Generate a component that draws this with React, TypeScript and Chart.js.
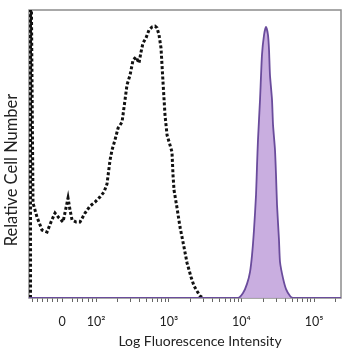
import React, { useEffect, useRef } from 'react';
import { Chart, registerables } from 'chart.js';

Chart.register(...registerables);

// x values are in display (biexponential) decade units: 2 = 10^2, 3 = 10^3 ...
const controlX = [
  1.099, 1.099, 1.133, 1.188, 1.257, 1.326, 1.381, 1.436, 1.491, 1.546, 1.587, 1.615, 1.642, 1.67,
  1.725, 1.78, 1.849, 1.917, 1.986, 2.055, 2.11, 2.151, 2.193, 2.22, 2.261, 2.303, 2.358, 2.399,
  2.426, 2.468, 2.509, 2.55, 2.591, 2.619, 2.646, 2.688, 2.729, 2.77, 2.812, 2.839, 2.867, 2.894,
  2.922, 2.949, 2.977, 3.018, 3.045, 3.059, 3.073, 3.114, 3.155, 3.21, 3.252, 3.307, 3.348, 3.389,
  3.431, 3.472,
];
const controlY = [
  0, 140, 33.0, 28.1, 23.6, 22.9, 26.4, 29.5, 27.8, 26.4, 31.3, 34.7, 30.6, 27.1,
  26.4, 26.4, 29.5, 31.9, 33.3, 35.1, 36.8, 39.6, 47.9, 51.4, 54.9, 59.0, 61.1, 68.8,
  74.0, 77.4, 82.6, 83.7, 81.6, 85.4, 88.5, 90.3, 93.1, 94.1, 94.4, 93.8, 91.3, 86.8,
  74.7, 63.5, 56.6, 53.1, 50.7, 42.7, 37.5, 31.3, 24.7, 17.7, 12.2, 7.3, 4.2, 2.4,
  0.7, 0,
];

const stainedX = [
  1.078, 3.953, 4.022, 4.077, 4.118, 4.146, 4.173, 4.201, 4.215, 4.228, 4.256, 4.283, 4.311, 4.338,
  4.366, 4.38, 4.393, 4.421, 4.435, 4.462, 4.476, 4.49, 4.517, 4.531, 4.572, 4.614, 4.669, 4.71, 5.37,
];
const stainedY = [
  0, 0, 1.7, 4.9, 9.0, 14.9, 23.6, 35.8, 46.2, 54.9, 68.8, 84.4, 91.3, 94.1,
  91.3, 86.1, 77.4, 68.8, 60.1, 51.4, 42.7, 32.3, 20.1, 12.5, 6.9, 3.1, 0.7, 0, 0,
];

const axisMin = 1.078;
const axisMax = 5.37;
const majorTickValues = [1.532, 2, 3, 4, 5];
const majorTickLabels = ['0', '10²', '10³', '10⁴', '10⁵'];
const linearMinorTicks = [1.12, 1.19, 1.26, 1.33, 1.4, 1.47, 1.67, 1.75, 1.82, 1.89, 1.95];
const xTitle = 'Log Fluorescence Intensity';
const yTitle = 'Relative Cell Number';

const FONT = 'Lato, "DejaVu Sans", sans-serif';

export default function App() {
  const ref = useRef<HTMLCanvasElement>(null);

  useEffect(() => {
    if (!ref.current) return;
    const logMinor: number[] = [];
    for (let n = 2; n <= 5; n++) {
      for (let k = 2; k <= 9; k++) {
        const v = n + Math.log10(k);
        if (v < axisMax) logMinor.push(v);
      }
    }
    const allTicks = [...linearMinorTicks, ...majorTickValues, ...logMinor].sort((a, b) => a - b);

    const frame = {
      id: 'frame',
      beforeDatasetsDraw(chart: any) {
        const { ctx, chartArea: a } = chart;
        ctx.save();
        ctx.strokeStyle = '#8c8c8c';
        ctx.lineWidth = 1.5;
        ctx.strokeRect(a.left, a.top, a.right - a.left, a.bottom - a.top);
        ctx.restore();
      },
    };

    const titles = {
      id: 'titles',
      afterDraw(chart: any) {
        const { ctx, chartArea: a } = chart;
        ctx.save();
        ctx.fillStyle = '#222';
        ctx.textAlign = 'center';
        ctx.textBaseline = 'middle';
        ctx.font = `14px ${FONT}`;
        ctx.fillText(xTitle, (a.left + a.right) / 2 + 15, a.bottom + 43);
        ctx.translate(a.left - 17, (a.top + a.bottom) / 2 + 16);
        ctx.rotate(-Math.PI / 2);
        ctx.font = `16.5px ${FONT}`;
        ctx.fillText(yTitle, 0, 0);
        ctx.restore();
      },
    };

    const chart = new Chart(ref.current, {
      type: 'line',
      data: {
        datasets: [
          {
            label: 'Stained',
            data: stainedX.map((x, i) => ({ x, y: stainedY[i] })),
            borderColor: '#6a4c9c',
            backgroundColor: 'rgba(198,170,222,0.95)',
            borderWidth: 1.8,
            fill: 'origin',
            pointRadius: 0,
            tension: 0.2,
          },
          {
            label: 'Isotype control',
            data: controlX.map((x, i) => ({ x, y: controlY[i] })),
            borderColor: '#111',
            borderWidth: 3,
            borderDash: [3, 2.2],
            fill: false,
            pointRadius: 0,
            tension: 0,
          },
        ],
      },
      options: {
        animation: false,
        responsive: false,
        events: [],
        layout: { padding: { top: 10, right: 17, left: 0, bottom: 0 } },
        plugins: { legend: { display: false }, tooltip: { enabled: false } },
        scales: {
          x: {
            type: 'linear',
            min: axisMin,
            max: axisMax,
            afterBuildTicks(scale: any) {
              scale.ticks = allTicks.map((v) => ({ value: v }));
            },
            afterFit(scale: any) {
              scale.height = 60;
            },
            border: { display: false },
            grid: {
              display: true,
              drawOnChartArea: false,
              drawTicks: true,
              tickLength: 4,
              color: '#666',
              lineWidth: 1,
            },
            ticks: {
              autoSkip: false,
              maxRotation: 0,
              minRotation: 0,
              padding: 12,
              color: '#222',
              font: { family: FONT, size: 12.5 },
              callback: (value: any) => {
                const idx = majorTickValues.findIndex((m) => Math.abs(m - Number(value)) < 1e-6);
                return idx >= 0 ? majorTickLabels[idx] : '';
              },
            },
            title: { display: false, text: xTitle },
          },
          y: {
            min: 0,
            max: 100,
            afterFit(scale: any) {
              scale.width = 29;
            },
            border: { display: false },
            grid: { display: false },
            ticks: { display: false },
            title: { display: false, text: yTitle },
          },
        },
      },
      plugins: [frame, titles],
    } as any);

    return () => chart.destroy();
  }, []);

  return (
    <div style={{ position: 'absolute', left: 0, top: 0, width: 358, height: 358, background: '#fff' }}>
      <canvas ref={ref} width={358} height={358} style={{ display: 'block' }} />
    </div>
  );
}
